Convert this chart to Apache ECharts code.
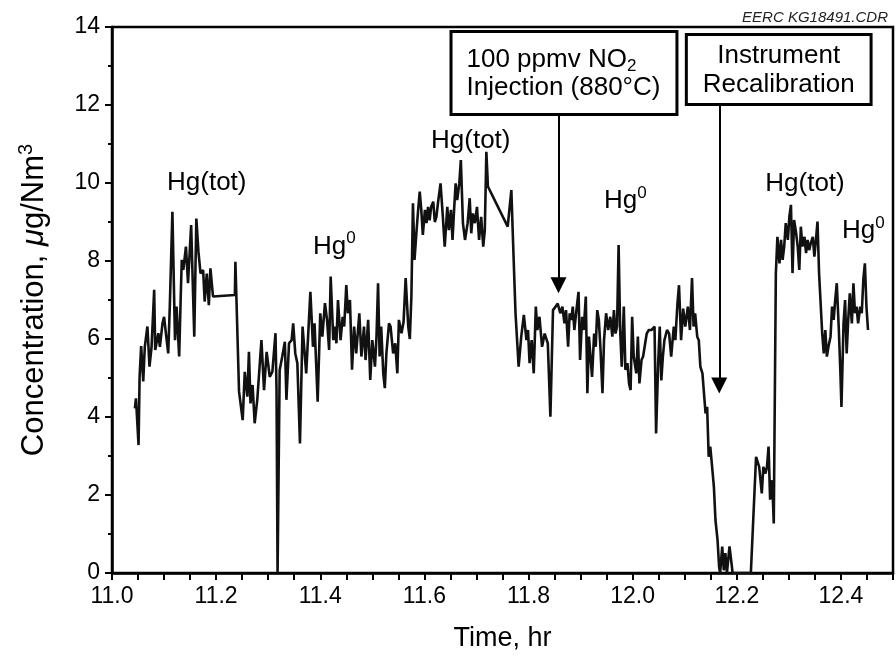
<!DOCTYPE html>
<html><head><meta charset="utf-8">
<script src="https://cdn.jsdelivr.net/npm/echarts@6/dist/echarts.min.js"></script>
<style>html,body{margin:0;padding:0;background:#fff}#c{width:896px;height:662px}</style>
</head><body><div id="c"></div>
<script>
const timeHr = [
11.044,11.046,11.051,11.053,11.056,11.060,11.063,11.068,11.072,11.076,
11.081,11.083,11.089,11.092,11.097,11.100,11.105,11.108,11.111,11.116,
11.121,11.124,11.129,11.132,11.134,11.137,11.142,11.146,11.152,11.158,
11.162,11.166,11.170,11.175,11.178,11.182,11.186,11.189,11.194,11.236,
11.237,11.244,11.251,11.255,11.260,11.263,11.266,11.270,11.274,11.279,
11.287,11.292,11.297,11.303,11.308,11.314,11.316,11.318,11.319,11.322,
11.327,11.332,11.335,11.340,11.345,11.348,11.352,11.356,11.361,11.366,
11.373,11.381,11.386,11.389,11.395,11.400,11.404,11.409,11.413,11.417,
11.420,11.425,11.428,11.431,11.434,11.439,11.443,11.446,11.450,11.453,
11.457,11.461,11.465,11.469,11.475,11.479,11.484,11.487,11.492,11.496,
11.500,11.505,11.508,11.511,11.514,11.517,11.521,11.524,11.527,11.532,
11.535,11.540,11.544,11.548,11.551,11.556,11.560,11.564,11.569,11.572,
11.575,11.578,11.581,11.585,11.588,11.591,11.594,11.597,11.601,11.604,
11.607,11.610,11.613,11.617,11.620,11.623,11.626,11.631,11.635,11.639,
11.644,11.647,11.651,11.654,11.657,11.660,11.663,11.667,11.670,11.674,
11.678,11.683,11.687,11.690,11.693,11.697,11.701,11.705,11.709,11.713,
11.716,11.719,11.722,11.760,11.767,11.770,11.775,11.781,11.786,11.791,
11.796,11.799,11.802,11.806,11.810,11.814,11.817,11.821,11.826,11.831,
11.837,11.842,11.847,11.852,11.856,11.861,11.865,11.869,11.872,11.876,
11.879,11.882,11.885,11.888,11.892,11.896,11.899,11.903,11.906,11.910,
11.913,11.916,11.919,11.922,11.926,11.929,11.932,11.935,11.938,11.942,
11.945,11.949,11.953,11.957,11.961,11.964,11.967,11.970,11.973,11.976,
11.979,11.983,11.986,11.990,11.993,11.996,11.999,12.002,12.007,12.010,
12.013,12.017,12.020,12.023,12.027,12.031,12.036,12.039,12.042,12.045,
12.049,12.052,12.055,12.058,12.061,12.066,12.070,12.074,12.079,12.082,
12.086,12.089,12.093,12.097,12.101,12.106,12.110,12.114,12.117,12.120,
12.124,12.127,12.130,12.134,12.140,12.143,12.146,12.149,12.152,12.156,
12.159,12.163,12.166,12.168,12.172,12.175,12.178,12.181,12.186,12.189,
12.192,12.227,12.237,12.243,12.248,12.251,12.255,12.258,12.261,12.264,
12.268,12.271,12.275,12.278,12.282,12.285,12.288,12.291,12.294,12.298,
12.301,12.304,12.307,12.310,12.314,12.317,12.320,12.323,12.326,12.330,
12.333,12.336,12.339,12.342,12.346,12.349,12.352,12.355,12.358,12.364,
12.367,12.370,12.373,12.376,12.380,12.383,12.386,12.389,12.392,12.396,
12.399,12.401,12.405,12.408,12.411,12.414,12.417,12.421,12.424,12.427,
12.430,12.433,12.437,12.440,12.443,12.446,12.449,12.452
];
const concentration = [
4.22,4.48,3.28,5.03,5.82,4.91,5.80,6.32,5.29,5.80,
7.26,5.72,6.15,5.80,6.40,6.57,5.97,5.63,6.83,9.26,
5.97,6.83,5.55,7.09,8.03,7.77,8.37,7.43,8.92,6.06,
9.09,8.24,7.68,7.77,6.96,7.68,6.87,7.81,7.09,7.13,
7.98,4.65,3.92,5.16,4.52,5.67,4.35,4.82,3.84,4.44,
5.97,4.69,5.67,5.03,5.16,6.15,4.69,0,0,5.20,
5.55,5.93,4.44,5.89,5.97,6.40,5.63,5.38,3.32,6.32,
5.12,7.21,5.80,6.40,4.39,6.66,6.06,6.92,6.49,5.72,
7.60,5.97,6.32,5.89,7.00,5.97,6.57,6.32,7.38,6.66,
7.00,5.21,6.32,5.63,6.66,5.55,6.32,5.46,6.49,4.95,
5.97,5.29,6.06,7.43,5.55,6.32,5.12,4.74,5.63,6.40,
6.32,5.63,5.89,5.12,6.49,6.15,6.44,7.56,6.32,6.00,
7.09,9.48,8.03,8.79,9.31,9.78,9.31,8.67,9.31,8.97,
9.39,9.04,9.39,9.52,9.00,9.13,9.48,9.99,9.22,8.37,
9.39,8.79,9.31,8.54,9.31,9.99,9.56,9.99,10.59,8.97,
8.54,8.97,9.61,8.71,9.22,8.97,9.39,8.54,9.13,8.37,
8.79,10.80,9.91,8.88,9.82,8.60,6.66,5.29,6.06,6.62,
5.97,6.23,5.38,5.97,5.12,6.83,6.23,6.57,5.80,6.14,
5.89,4.01,6.74,6.83,6.91,6.66,6.83,6.40,6.74,5.80,
6.66,6.49,6.83,6.23,6.74,7.21,5.46,6.57,6.23,7.09,
4.61,6.06,5.55,5.03,6.14,5.80,6.74,6.49,5.80,4.61,
5.97,6.66,6.23,6.57,6.06,6.74,6.14,6.32,8.41,6.23,
5.29,6.83,5.21,5.38,4.86,4.69,6.57,5.55,5.12,6.06,
4.86,5.46,5.55,5.80,6.14,6.23,6.23,6.23,6.32,3.58,
5.38,6.32,4.94,5.55,5.97,6.23,6.14,5.55,6.32,5.97,
6.91,7.38,5.97,6.78,6.32,6.83,6.23,7.56,6.32,6.66,
6.06,5.97,5.29,5.12,4.09,4.26,2.98,3.24,2.81,2.21,
1.36,0.85,0.16,0,0.68,0.07,0.51,0,0.68,0.34,
0,0,2.98,2.72,2.04,2.72,2.55,2.72,3.24,1.88,
2.38,1.27,7.68,8.62,7.94,8.54,8.03,8.37,8.97,8.54,
9.14,9.44,7.69,9.05,8.71,8.37,7.77,8.88,8.37,8.62,
8.20,8.54,8.28,8.45,8.62,8.11,8.54,9.01,7.69,6.15,
5.63,6.23,5.55,5.80,6.06,6.83,6.49,7.00,7.43,6.23,
5.12,4.26,6.40,7.00,5.63,6.49,7.17,6.40,7.43,6.66,
6.83,6.40,6.83,6.66,7.52,7.94,6.83,6.23
];
const xTickLabels = ['11.0','11.2','11.4','11.6','11.8','12.0','12.2','12.4'];
const yTickLabels = ['0','2','4','6','8','10','12','14'];
// species labels: [time, conc, text]
const speciesLabels = [
  [11.182, 10.0, 'Hg(tot)'],
  [11.427, 8.37, 'Hg{sup|0}'],
  [11.689, 11.09, 'Hg(tot)'],
  [11.986, 9.54, 'Hg{sup|0}'],
  [12.331, 9.99, 'Hg(tot)'],
  [12.443, 8.77, 'Hg{sup|0}']
];
// event annotations: box anchor (time, conc), arrow x (time), arrow start conc, arrow end conc
const events = [
  {text: '100 ppmv NO{sub|2}\nInjection (880°C)', box: [11.654, 12.82], arrow: [11.8575, 11.79, 7.38]},
  {text: 'Instrument\nRecalibration', box: [12.2805, 12.91], arrow: [12.1663, 12.05, 4.81]}
];

const FF = '"Liberation Sans", Arial, Helvetica, sans-serif';
const seriesData = timeHr.map((t, i) => [t, concentration[i]]);
const richBase = {
  sup: {fontSize: 17, fontFamily: FF, color: '#000', padding: [0, 0, 16, 0]},
  sub: {fontSize: 17, fontFamily: FF, color: '#000', padding: [12, 0, 0, 0]}
};

const chart = echarts.init(document.getElementById('c'), null, {renderer: 'canvas'});
chart.setOption({
  animation: false,
  backgroundColor: '#fff',
  title: {
    text: 'EERC KG18491.CDR', right: 3, top: 5,
    textStyle: {fontFamily: FF, fontSize: 15, fontStyle: 'italic', fontWeight: 'normal', color: '#222'}
  },
  grid: {left: 112, right: 2, top: 27, bottom: 89, show: true, borderColor: '#000', borderWidth: 2.5, containLabel: false},
  xAxis: {
    type: 'value', min: 11.0, max: 12.5, interval: 0.05,
    name: 'Time, hr', nameLocation: 'middle', nameGap: 52,
    nameTextStyle: {fontFamily: FF, fontSize: 27, color: '#000'},
    axisLine: {show: true, lineStyle: {color: '#000', width: 2.5}},
    axisTick: {show: true, length: 7, lineStyle: {color: '#000', width: 2}},
    splitLine: {show: false},
    axisLabel: {
      fontFamily: FF, fontSize: 23, color: '#000', margin: 12,
      formatter: v => {
        const s = v.toFixed(1);
        return (Math.abs(v * 5 - Math.round(v * 5)) < 1e-6 && xTickLabels.includes(s)) ? s : '';
      }
    }
  },
  yAxis: {
    type: 'value', min: 0, max: 14, interval: 2,
    name: 'Concentration, {it|μ}g/Nm{sup|3}', nameLocation: 'middle', nameGap: 60,
    nameTextStyle: {fontFamily: FF, fontSize: 31, color: '#000',
      rich: {it: {fontFamily: FF, fontSize: 31, fontStyle: 'italic', color: '#000'},
             sup: {fontFamily: FF, fontSize: 20, color: '#000', padding: [0, 0, 16, 0]}}},
    axisLine: {show: true, lineStyle: {color: '#000', width: 2.5}},
    axisTick: {show: true, length: 7, lineStyle: {color: '#000', width: 2}},
    minorTick: {show: true, splitNumber: 2, length: 4, lineStyle: {color: '#000', width: 2}},
    splitLine: {show: false},
    minorSplitLine: {show: false},
    axisLabel: {fontFamily: FF, fontSize: 23, color: '#000', margin: 12,
      formatter: v => yTickLabels.includes(String(v)) ? String(v) : ''}
  },
  series: [{
    type: 'line',
    data: seriesData,
    showSymbol: false,
    symbol: 'none',
    lineStyle: {color: '#111', width: 2.6},
    silent: true,
    markLine: {
      silent: true,
      symbol: ['none', 'triangle'],
      symbolSize: [16, 16],
      label: {show: false},
      lineStyle: {color: '#000', width: 2, type: 'solid'},
      data: events.map(e => [
        {coord: [e.arrow[0], e.arrow[1]]},
        {coord: [e.arrow[0], e.arrow[2]]}
      ])
    },
    markPoint: {
      silent: true,
      symbol: 'circle',
      symbolSize: 1,
      itemStyle: {color: 'rgba(0,0,0,0)'},
      data: speciesLabels.map(s => ({
        coord: [s[0], s[1]],
        label: {
          show: true, position: 'inside', color: '#000',
          fontFamily: FF, fontSize: 26,
          formatter: () => s[2], rich: richBase
        }
      })).concat(events.map((e, i) => ({
        coord: e.box,
        label: {
          show: true, position: 'inside', color: '#000',
          fontFamily: FF, fontSize: 26, lineHeight: i === 0 ? 28 : 29,
          align: i === 0 ? 'left' : 'center',
          verticalAlign: 'middle',
          backgroundColor: '#fff', borderColor: '#000', borderWidth: 3,
          padding: i === 0 ? [13, 15, 11, 14] : [5, 15, 4, 15],
          formatter: () => e.text,
          rich: {
            sub: {fontSize: 17, fontFamily: FF, color: '#000', padding: [12, 0, 0, 0], lineHeight: 28}
          }
        }
      })))
    }
  }]
});
</script>
</body></html>
